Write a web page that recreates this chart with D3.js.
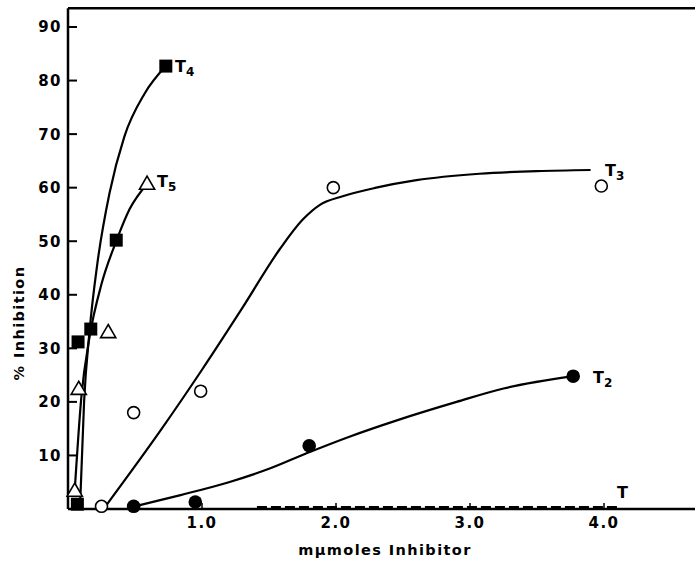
<!DOCTYPE html>
<head>
  <title>% Inhibition vs m&mu;moles Inhibitor</title>
  <style>
    body { margin: 0; background: #fff; }
    text { font-family: "DejaVu Sans", sans-serif; fill: #000; }
    .tick-label { font-size: 15px; font-weight: bold; letter-spacing: 1.5px; }
    .axis-label { font-size: 14.5px; font-weight: bold; letter-spacing: 1.4px; }
    .series-label { font-size: 16px; font-weight: bold; }
  </style>
</head>

<body>
  <script src="https://cdn.jsdelivr.net/npm/d3@7"></script>

  <script>
    // tick values
    var xTicks = [1.0, 2.0, 3.0, 4.0];
    var yTicks = [10, 20, 30, 40, 50, 60, 70, 80, 90];

    // measured points, [mumoles, % inhibition]
    var t4Points = [[0.07, 0.9], [0.075, 31.2], [0.17, 33.6], [0.36, 50.2], [0.73, 82.7]];
    var t5Points = [[0.05, 3.4], [0.08, 22.4], [0.30, 33], [0.59, 60.7]];
    var t3Points = [[0.25, 0.5], [0.49, 18], [0.99, 22], [1.98, 60], [3.98, 60.3]];
    var t2Points = [[0.49, 0.5], [0.95, 1.3], [1.8, 11.8], [3.77, 24.8]];

    // hand drawn fitted curves
    var t4Curve = [[0.09, 0.5], [0.12, 20], [0.16, 33], [0.22, 46], [0.31, 59], [0.42, 69.5], [0.57, 77.5], [0.73, 82.7]];
    var t5Curve = [[0.05, 3.4], [0.10, 21], [0.16, 32], [0.25, 42], [0.36, 50], [0.46, 56], [0.59, 60.7]];
    var t3Curve = [[0.28, 0.5], [0.7, 15], [1.0, 26], [1.3, 37.5], [1.58, 48.5], [1.75, 54], [1.88, 56.8],
                   [2.05, 58.4], [2.3, 60], [2.6, 61.4], [3.07, 62.6], [3.5, 63.1], [3.9, 63.3]];
    var t2Curve = [[0.5, 0.5], [0.84, 2.6], [1.2, 5], [1.5, 7.5], [1.78, 10.4], [2.1, 13.5],
                   [2.46, 16.6], [2.9, 20], [3.25, 22.5], [3.77, 24.8]];
    var tControl = [[1.41, 0.3], [4.1, 0.3]];

    var width = 695, height = 563;

    var x = d3.scaleLinear().domain([0, 4]).range([68, 604]);
    var y = d3.scaleLinear().domain([0, 90]).range([509, 27]);

    var svg = d3.select("body").append("svg")
                .attr("width", width)
                .attr("height", height);

    // frame: top line, left axis, bottom axis
    svg.append("line")
       .attr("x1", x(0)).attr("x2", width)
       .attr("y1", y(93.5)).attr("y2", y(93.5))
       .attr("stroke", "#000").attr("stroke-width", 2.5);

    svg.append("line")
       .attr("x1", x(0)).attr("x2", x(0))
       .attr("y1", y(93.5)).attr("y2", y(0))
       .attr("stroke", "#000").attr("stroke-width", 2.5);

    svg.append("line")
       .attr("x1", x(0)).attr("x2", width)
       .attr("y1", y(0)).attr("y2", y(0))
       .attr("stroke", "#000").attr("stroke-width", 2.5);

    // y ticks point inward
    svg.selectAll(".ytick")
       .data(yTicks)
       .enter().append("line")
       .attr("x1", x(0)).attr("x2", x(0) + 9)
       .attr("y1", function(d) { return y(d); })
       .attr("y2", function(d) { return y(d); })
       .attr("stroke", "#000").attr("stroke-width", 2);

    svg.selectAll(".ylab")
       .data(yTicks)
       .enter().append("text")
       .attr("class", "tick-label")
       .attr("x", 62)
       .attr("y", function(d) { return y(d); })
       .attr("dy", "0.36em")
       .style("text-anchor", "end")
       .text(function(d) { return d; });

    // x ticks, short marks upward
    svg.selectAll(".xtick")
       .data(xTicks)
       .enter().append("line")
       .attr("x1", function(d) { return x(d); })
       .attr("x2", function(d) { return x(d); })
       .attr("y1", y(0)).attr("y2", y(0) - 6)
       .attr("stroke", "#000").attr("stroke-width", 1.5);

    svg.selectAll(".xlab")
       .data(xTicks)
       .enter().append("text")
       .attr("class", "tick-label")
       .attr("x", function(d) { return x(d); })
       .attr("y", 528)
       .style("text-anchor", "middle")
       .text(function(d) { return d.toFixed(1); });

    // axis labels
    svg.append("text")
       .attr("class", "axis-label")
       .attr("x", 385)
       .attr("y", 555)
       .style("text-anchor", "middle")
       .text("m\u03bcmoles Inhibitor");

    svg.append("text")
       .attr("class", "axis-label")
       .attr("transform", "translate(24,323) rotate(-90)")
       .style("text-anchor", "middle")
       .text("% Inhibition");

    // fitted curves
    var line = d3.line()
                 .x(function(d) { return x(d[0]); })
                 .y(function(d) { return y(d[1]); })
                 .curve(d3.curveMonotoneX);

    [t4Curve, t5Curve, t3Curve, t2Curve].forEach(function(c) {
      svg.append("path")
         .attr("d", line(c))
         .attr("fill", "none")
         .attr("stroke", "#000")
         .attr("stroke-width", 2.2);
    });

    // control, dashed
    svg.append("path")
       .attr("d", d3.line().x(function(d) { return x(d[0]); }).y(function(d) { return y(d[1]); })(tControl))
       .attr("fill", "none")
       .attr("stroke", "#000")
       .attr("stroke-width", 3)
       .attr("stroke-dasharray", "10,4");

    // markers
    svg.selectAll(".t4")
       .data(t4Points)
       .enter().append("rect")
       .attr("x", function(d) { return x(d[0]) - 6.5; })
       .attr("y", function(d) { return y(d[1]) - 6.5; })
       .attr("width", 13).attr("height", 13)
       .attr("fill", "#000");

    var tri = d3.symbol().type(d3.symbolTriangle).size(100);
    svg.selectAll(".t5")
       .data(t5Points)
       .enter().append("path")
       .attr("d", tri)
       .attr("transform", function(d) { return "translate(" + x(d[0]) + "," + (y(d[1]) + 1) + ")"; })
       .attr("fill", "#fff")
       .attr("stroke", "#000")
       .attr("stroke-width", 1.6);

    svg.selectAll(".t3")
       .data(t3Points)
       .enter().append("circle")
       .attr("cx", function(d) { return x(d[0]); })
       .attr("cy", function(d) { return y(d[1]); })
       .attr("r", 6)
       .attr("fill", "#fff")
       .attr("stroke", "#000")
       .attr("stroke-width", 1.6);

    svg.selectAll(".t2")
       .data(t2Points)
       .enter().append("circle")
       .attr("cx", function(d) { return x(d[0]); })
       .attr("cy", function(d) { return y(d[1]); })
       .attr("r", 6.8)
       .attr("fill", "#000");

    // series labels with subscripts
    function seriesLabel(px, py, sub) {
      var t = svg.append("text")
                 .attr("class", "series-label")
                 .attr("x", px)
                 .attr("y", py);
      t.append("tspan").text("T");
      if (sub) {
        t.append("tspan")
         .attr("dy", 4)
         .style("font-size", "12px")
         .text(sub);
      }
    }

    seriesLabel(175, 72, "4");
    seriesLabel(157, 187, "5");
    seriesLabel(605, 176, "3");
    seriesLabel(593, 383, "2");
    seriesLabel(617, 498, "");
  </script>

</body>
